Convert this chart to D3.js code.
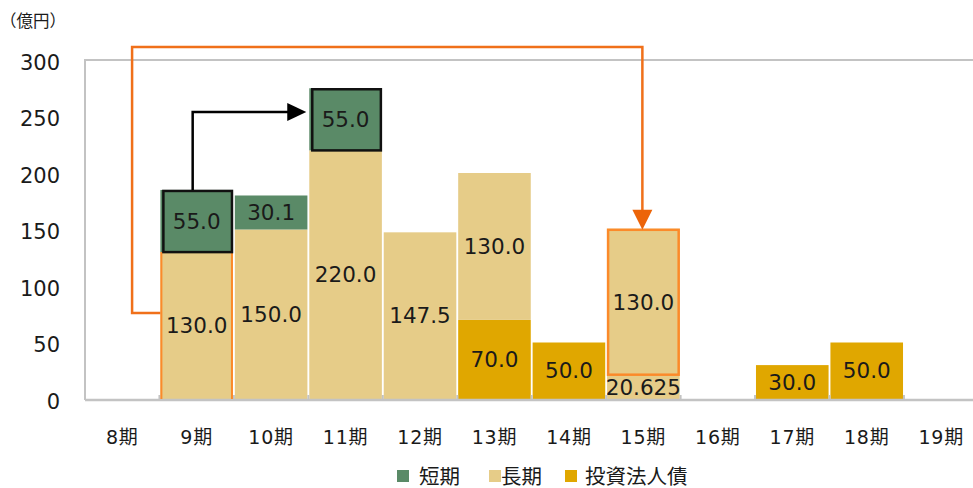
<!DOCTYPE html>
<html>
<head>
<meta charset="utf-8">
<script src="https://cdn.jsdelivr.net/npm/d3@7"></script>
<style>
  html, body { margin: 0; padding: 0; background: #fff; }
  svg { display: block; }
  text { font-family: "DejaVu Sans", "Noto Sans CJK JP", sans-serif; fill: #1a1a1a; }
</style>
</head>
<body>
<svg id="chart" width="973" height="488"></svg>
<script>
// Periods on the x axis
const categories = ["8期", "9期", "10期", "11期", "12期", "13期", "14期", "15期", "16期", "17期", "18期", "19期"];

// Borrowings by maturity period (億円)
const bondValues      = [0, 0, 0, 0, 0, 70, 50, 0, 0, 30, 50, 0];       // 投資法人債
const longBaseValues  = [0, 0, 0, 0, 0, 0, 0, 20.625, 0, 0, 0, 0];      // 長期 (lower tranche)
const longValues      = [0, 130, 150, 220, 147.5, 130, 0, 130, 0, 0, 0, 0]; // 長期
const shortValues     = [0, 55, 30.1, 55, 0, 0, 0, 0, 0, 0, 0, 0];      // 短期

const yTicks = [0, 50, 100, 150, 200, 250, 300];
const legendItems = [
  { key: "short", label: "短期" },
  { key: "long", label: "長期" },
  { key: "bond", label: "投資法人債" }
];

const colors = { short: "#5a8a67", long: "#e6cc88", longBase: "#e6cc88", bond: "#e0a700" };

const rows = categories.map((c, i) => ({
  cat: c,
  bond: bondValues[i],
  longBase: longBaseValues[i],
  long: longValues[i],
  short: shortValues[i]
}));

const keys = ["bond", "longBase", "long", "short"];
const series = d3.stack().keys(keys)(rows);

const svg = d3.select("#chart");

const plotLeft = 85, plotTop = 60, plotBottom = 399;
const band = 74.45;
const x = d3.scaleBand().domain(categories).range([plotLeft, plotLeft + band * categories.length]).paddingInner(0.025).paddingOuter(0.0125);
const y = d3.scaleLinear().domain([0, 300]).range([plotBottom, plotTop]);

// Plot frame (left and top edges)
svg.append("path")
  .attr("d", `M${plotLeft},${y(0)}V${y(300)}H973`)
  .attr("fill", "none").attr("stroke", "#c3c3c3").attr("stroke-width", 2);

// Unit label
svg.append("text").attr("x", 0).attr("y", 27).attr("font-size", 16.5)
  .attr("font-family", "\"Noto Sans CJK JP\", sans-serif").text("（億円）");

// Y axis labels
const yAxis = d3.axisLeft(y).tickValues(yTicks).tickSize(0).tickPadding(0).tickFormat(d3.format("d"));
const gy = svg.append("g").attr("transform", `translate(${plotLeft - 25},2.5)`).call(yAxis);
gy.select(".domain").remove();
gy.selectAll("text").attr("font-size", 21).attr("font-family", "\"DejaVu Sans\", sans-serif").attr("fill", "#1a1a1a");

// Bars
const layer = svg.append("g").selectAll("g").data(series).join("g").attr("fill", d => colors[d.key]);
layer.selectAll("rect")
  .data(d => d.map(p => ({ key: d.key, cat: p.data.cat, y0: p[0], y1: p[1], v: p.data[d.key] })).filter(p => p.v > 0))
  .join("rect")
  .attr("x", d => x(d.cat))
  .attr("width", x.bandwidth())
  .attr("y", d => y(d.y1))
  .attr("height", d => y(d.y0) - y(d.y1));

// X axis line with ticks between periods
svg.append("line").attr("x1", plotLeft).attr("x2", 973).attr("y1", plotBottom + 1).attr("y2", plotBottom + 1)
  .attr("stroke", "#c3c3c3").attr("stroke-width", 2.5);
const step = x.step();
svg.append("g").selectAll("line").data(d3.range(categories.length + 1))
  .join("line")
  .attr("x1", i => plotLeft + i * step).attr("x2", i => plotLeft + i * step)
  .attr("y1", plotBottom + 1).attr("y2", plotBottom - 4)
  .attr("stroke", "#c3c3c3").attr("stroke-width", 2);

// Period labels
const gx = svg.append("g").attr("transform", `translate(0,${plotBottom})`)
  .call(d3.axisBottom(x).tickSize(0).tickPadding(0));
gx.select(".domain").remove();
gx.selectAll("text").attr("font-size", 19).attr("dy", 0).attr("y", 45).attr("letter-spacing", 0.8)
  .attr("font-family", "\"DejaVu Sans\", \"Noto Sans CJK JP\", sans-serif").attr("fill", "#1a1a1a");

// Highlight borders
const seg = (key, cat) => {
  const s = series.find(d => d.key === key);
  const p = s[categories.indexOf(cat)];
  return { x0: x(cat), x1: x(cat) + x.bandwidth(), yTop: y(p[1]), yBot: y(p[0]) };
};
const orange = "#f0701a";

// 9期 long-term block: orange side borders
const s9 = seg("long", "9期");
svg.append("path")
  .attr("d", `M${s9.x0 + 1},${s9.yBot}V${s9.yTop}M${s9.x1 - 1},${s9.yTop}V${s9.yBot}`)
  .attr("fill", "none").attr("stroke", "#fb8a2a").attr("stroke-width", 2);

// 15期 refinanced long-term block
const s15 = seg("long", "15期");
svg.append("rect")
  .attr("x", s15.x0 + 1).attr("y", s15.yTop + 1)
  .attr("width", s15.x1 - s15.x0 - 2).attr("height", s15.yBot - s15.yTop - 2)
  .attr("fill", "none").attr("stroke", "#fb8a2a").attr("stroke-width", 2.5);

// Short-term blocks for 9期 and 11期 with black borders
["9期", "11期"].forEach(c => {
  const s = seg("short", c);
  svg.append("rect")
    .attr("x", s.x0 + 3).attr("y", s.yTop + 1)
    .attr("width", s.x1 - s.x0 - 4).attr("height", s.yBot - s.yTop - 1)
    .attr("fill", "none").attr("stroke", "#111").attr("stroke-width", 2.5);
});

// Arrow: 9期 short-term rolled to 11期
const sh9 = seg("short", "9期");
const sh11 = seg("short", "11期");
const ax = (sh9.x0 + sh9.x1) / 2 - 4;
const ay = y(254);
const tipX = sh11.x0 - 3;
svg.append("path")
  .attr("d", `M${ax},${sh9.yTop}V${ay}H${tipX - 16}`)
  .attr("fill", "none").attr("stroke", "#000").attr("stroke-width", 2.5);
svg.append("path")
  .attr("d", `M${tipX},${ay}L${tipX - 19},${ay - 9}L${tipX - 19},${ay + 9}Z`)
  .attr("fill", "#000");

// Arrow: 9期 long-term refinanced into 15期
const ox0 = x("9期") - 0.38 * step;
const oyStart = y(76);
const oyTop = y(311.5);
const ox1 = x("15期") + x.bandwidth() / 2 - 1;
const oTip = s15.yTop + 1;
svg.append("path")
  .attr("d", `M${s9.x0},${oyStart}H${ox0}V${oyTop}H${ox1}V${oTip - 18}`)
  .attr("fill", "none").attr("stroke", orange).attr("stroke-width", 2.5);
svg.append("path")
  .attr("d", `M${ox1},${oTip}L${ox1 - 10},${oTip - 20}L${ox1 + 10},${oTip - 20}Z`)
  .attr("fill", "#ec6408");

// Value labels, one per segment, showing the segment's own value
const fmt = v => (Math.round(v * 10) === v * 10 ? v.toFixed(1) : String(v));
const labels = [];
series.forEach(s => s.forEach((p, i) => {
  const v = p.data[s.key];
  if (v > 0) labels.push({ cat: categories[i], v, mid: (p[0] + p[1]) / 2 });
}));
svg.append("g").selectAll("text").data(labels).join("text")
  .attr("x", d => x(d.cat) + x.bandwidth() / 2)
  .attr("y", d => y(d.mid))
  .attr("dy", "0.36em")
  .attr("text-anchor", "middle")
  .attr("font-size", 21.5)
  .attr("font-family", "\"DejaVu Sans\", sans-serif")
  .text(d => fmt(d.v));

// Legend
const legendPos = [{ sx: 397, tx: 419 }, { sx: 489, tx: 501 }, { sx: 565, tx: 585 }];
const lg = svg.append("g");
legendItems.forEach((it, i) => {
  lg.append("rect").attr("x", legendPos[i].sx).attr("y", 470).attr("width", 12).attr("height", 12).attr("fill", colors[it.key]);
  lg.append("text").attr("x", legendPos[i].tx).attr("y", 484).attr("font-size", 20.5)
    .attr("font-family", "\"Noto Sans CJK JP\", sans-serif").text(it.label);
});
</script>
</body>
</html>
